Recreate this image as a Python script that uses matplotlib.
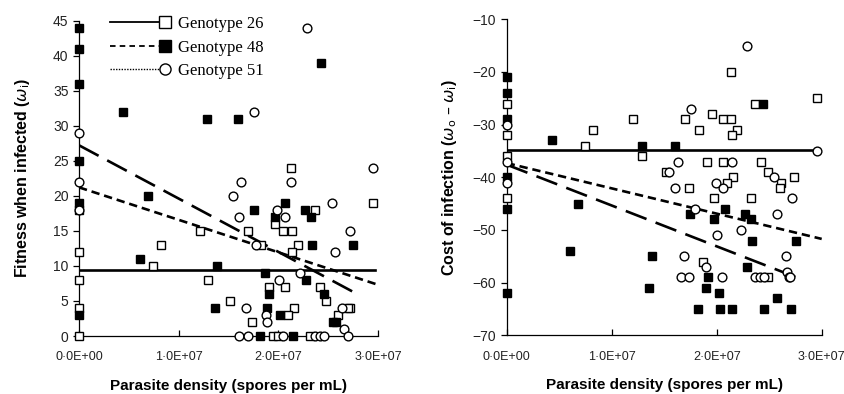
import numpy as np
import matplotlib
matplotlib.use("Agg")
import matplotlib.pyplot as plt
from matplotlib.lines import Line2D
from matplotlib.legend_handler import HandlerLine2DCompound
from matplotlib.ticker import FuncFormatter

plt.rcParams['font.family'] = ['Liberation Sans', 'DejaVu Sans']
plt.rcParams['lines.scale_dashes'] = False

# ---- left panel: fitness when infected ----
fit_g26_x = [0, 0, 0, 0, 0.82e7, 0.745e7, 1.214e7, 1.29e7, 1.514e7, 1.70e7, 1.83e7,
             1.74e7, 1.95e7, 2.00e7, 1.966e7, 2.05e7, 2.14e7, 2.13e7, 2.367e7, 2.2e7,
             2.14e7, 1.906e7, 2.066e7, 2.417e7, 2.48e7, 2.157e7, 2.72e7, 2.1e7, 2.6e7,
             2.95e7, 2.32e7, 2.70e7]
fit_g26_y = [12, 8, 4, 0, 13, 10, 15, 8, 5, 15, 13,
             2, 0, 0, 16, 15, 15, 24, 18, 13,
             12, 7, 7, 7, 5, 4, 4, 3, 3,
             19, 0, 4]

fit_g48_x = [0, 0, 0, 0, 0, 0, 0, 0.438e7, 1.287e7, 1.6e7, 2.43e7, 0.69e7, 1.755e7,
             0.612e7, 1.387e7, 1.866e7, 1.364e7, 1.815e7, 2.066e7, 2.267e7, 1.966e7,
             2.324e7, 2.34e7, 2.75e7, 2.28e7, 1.909e7, 2.46e7, 1.89e7, 2.016e7, 2.55e7,
             2.58e7, 2.15e7]
fit_g48_y = [44, 41, 36, 25, 19, 18, 3, 32, 31, 31, 39, 20, 18,
             11, 10, 9, 4, 0, 19, 18, 17,
             17, 13, 13, 8, 6, 6, 4, 3, 2,
             2, 0]

fit_g51_x = [0, 0, 0, 1.755e7, 1.55e7, 1.63e7, 2.284e7, 2.13e7, 2.946e7, 1.61e7, 1.78e7,
             2.54e7, 1.983e7, 2.066e7, 2.72e7, 2.57e7, 2.006e7, 2.22e7, 1.68e7, 2.64e7,
             1.876e7, 1.89e7, 2.66e7, 1.61e7, 1.70e7, 2.05e7, 2.37e7, 2.42e7, 2.46e7,
             2.70e7]
fit_g51_y = [29, 22, 18, 32, 20, 22, 44, 22, 24, 17, 13,
             19, 18, 17, 15, 12, 8, 9, 4, 4,
             3, 2, 1, 0, 0, 0, 0, 0, 0,
             0]

# ---- right panel: cost of infection ----
cost_g26_x = [0, 0, 0, 0, 0.819e7, 0.746e7, 1.206e7, 1.29e7, 2.136e7, 2.365e7, 2.96e7,
              1.70e7, 1.96e7, 2.057e7, 2.136e7, 1.83e7, 2.196e7, 2.143e7, 1.905e7,
              2.063e7, 2.425e7, 1.517e7, 2.49e7, 2.736e7, 2.152e7, 2.095e7, 2.61e7,
              2.6e7, 1.74e7, 1.97e7, 2.33e7, 1.87e7, 2.49e7]
cost_g26_y = [-26, -32, -36, -44, -31, -34, -29, -36, -20, -26, -25,
              -29, -28, -29, -29, -31, -31, -32, -37,
              -37, -37, -39, -39, -40, -40, -41, -41,
              -42, -42, -44, -44, -56, -59]

cost_g48_x = [0, 0, 0, 0, 0, 0, 0.434e7, 1.286e7, 1.603e7, 2.44e7, 1.75e7, 2.08e7,
              1.97e7, 2.27e7, 2.33e7, 2.34e7, 2.755e7, 1.387e7, 2.286e7, 1.92e7,
              1.358e7, 1.898e7, 2.025e7, 2.57e7, 1.825e7, 2.03e7, 2.15e7, 2.45e7,
              2.71e7, 0.676e7, 0.603e7]
cost_g48_y = [-21, -24, -29, -40, -46, -62, -33, -34, -34, -26, -47, -46,
              -48, -47, -48, -52, -52, -55, -57, -59,
              -61, -61, -62, -63, -65, -65, -65, -65,
              -65, -45, -54]

cost_g51_x = [0, 0, 0, 2.29e7, 1.76e7, 2.96e7, 1.634e7, 2.143e7, 1.549e7, 2.546e7,
              1.99e7, 2.063e7, 1.603e7, 2.72e7, 1.79e7, 2.57e7, 2.23e7, 2.0e7, 1.69e7,
              2.657e7, 1.9e7, 1.657e7, 1.74e7, 2.05e7, 2.365e7, 2.41e7, 2.45e7,
              2.67e7, 2.69e7, 2.7e7]
cost_g51_y = [-30, -37, -41, -15, -27, -35, -37, -37, -39, -40,
              -41, -42, -42, -44, -46, -47, -50, -51, -55,
              -55, -57, -59, -59, -59, -59, -59, -59,
              -58, -59, -59]

# trend lines: intercept, slope (per spore/mL), x end
fit_trend = {'26': (9.4, 0.0, 2.97e7), '48': (21.2, -13.8 / 2.98e7, 2.98e7),
             '51': (27.2, -20.9 / 2.75e7, 2.75e7)}
cost_trend = {'26': (-34.9, 0.0, 2.96e7), '48': (-37.3, -14.4 / 3.0e7, 3.0e7),
              '51': (-37.6, -21.4 / 2.76e7, 2.76e7)}

genotypes = ['Genotype 26', 'Genotype 48', 'Genotype 51']
trend_styles = {'26': '-', '48': (0, (6, 3.5)), '51': (0, (16, 7))}

fig = plt.figure(figsize=(8.45, 3.94), dpi=100)
ax1 = fig.add_axes([79 / 845, 58 / 394, 299 / 845, 315.5 / 394])
ax2 = fig.add_axes([506.7 / 845, 58.7 / 394, 315 / 845, 316 / 394])


def sci_dot(v, pos):
    s = '{:.1E}'.format(v)
    return s.replace('.', '\u00b7')


def draw_panel(ax, g26, g48, g51, trends):
    for k, (b0, b1, xend) in trends.items():
        xx = np.array([0, xend])
        ax.plot(xx, b0 + b1 * xx, color='black', lw=1.9, linestyle=trend_styles[k], zorder=2)
    ms = 6.3
    ax.plot(g26[0], g26[1], 's', ms=ms, mfc='white', mec='black', mew=1.0, ls='none', zorder=3, clip_on=False)
    ax.plot(g48[0], g48[1], 's', ms=ms, mfc='black', mec='black', mew=1.0, ls='none', zorder=3, clip_on=False)
    ax.plot(g51[0], g51[1], 'o', ms=ms, mfc='white', mec='black', mew=1.0, ls='none', zorder=4, clip_on=False)
    for s in ['top', 'right']:
        ax.spines[s].set_visible(False)
    for s in ['left', 'bottom']:
        ax.spines[s].set_linewidth(0.9)
    ax.set_xlim(0, 3e7)
    ax.set_xticks([0, 1e7, 2e7, 3e7])
    ax.xaxis.set_major_formatter(FuncFormatter(sci_dot))
    ax.tick_params(axis='x', direction='in', length=4, width=0.9, labelsize=9, pad=11)
    ax.tick_params(axis='y', direction='out', length=4, width=0.9, labelsize=10)
    ax.set_xlabel('Parasite density (spores per mL)', fontsize=11, fontweight='bold', labelpad=11)
    for lab in ax.get_xticklabels() + ax.get_yticklabels():
        lab.set_color('#222222')


draw_panel(ax1, (fit_g26_x, fit_g26_y), (fit_g48_x, fit_g48_y), (fit_g51_x, fit_g51_y), fit_trend)
ax1.set_ylim(0, 45)
ax1.set_yticks(np.arange(0, 46, 5))
ax1.set_ylabel(r'Fitness when infected ($\omega_\mathrm{i}$)', fontsize=11.5, fontweight='bold')
ax1.yaxis.set_label_coords(-0.157, 0.5)

draw_panel(ax2, (cost_g26_x, cost_g26_y), (cost_g48_x, cost_g48_y), (cost_g51_x, cost_g51_y), cost_trend)
ax2.set_ylim(-70, -10)
ax2.set_yticks(np.arange(-70, -9, 10))
ax2.set_ylabel('Cost of infection ($\\omega_\\mathrm{o}$ \u2013 $\\omega_\\mathrm{i}$)',
               fontsize=11.5, fontweight='bold')
ax2.yaxis.set_label_coords(-0.153, 0.5)


class EndMarker(HandlerLine2DCompound):
    # marker sits at the right end of the legend line
    def get_xdata(self, legend, xdescent, ydescent, width, height, fontsize):
        xdata = np.array([-xdescent, -xdescent + width])
        return xdata, np.array([-xdescent + width])


handles = [
    Line2D([], [], color='black', lw=1.3, ls='-', marker='s', ms=8, mfc='white', mec='black'),
    Line2D([], [], color='black', lw=1.3, ls=(0, (4, 3)), marker='s', ms=8, mfc='black', mec='black'),
    Line2D([], [], color='black', lw=1.0, ls=(0, (1, 1)), marker='o', ms=8, mfc='white', mec='black'),
]
ax1.legend(handles, genotypes, loc='upper left', bbox_to_anchor=(0.077, 1.04), frameon=False,
           borderpad=0, prop={'family': 'Liberation Serif', 'size': 12}, handlelength=3.3,
           handletextpad=0.75, labelspacing=0.45, handler_map={h: EndMarker() for h in handles})

fig.savefig('out.png', dpi=100)
